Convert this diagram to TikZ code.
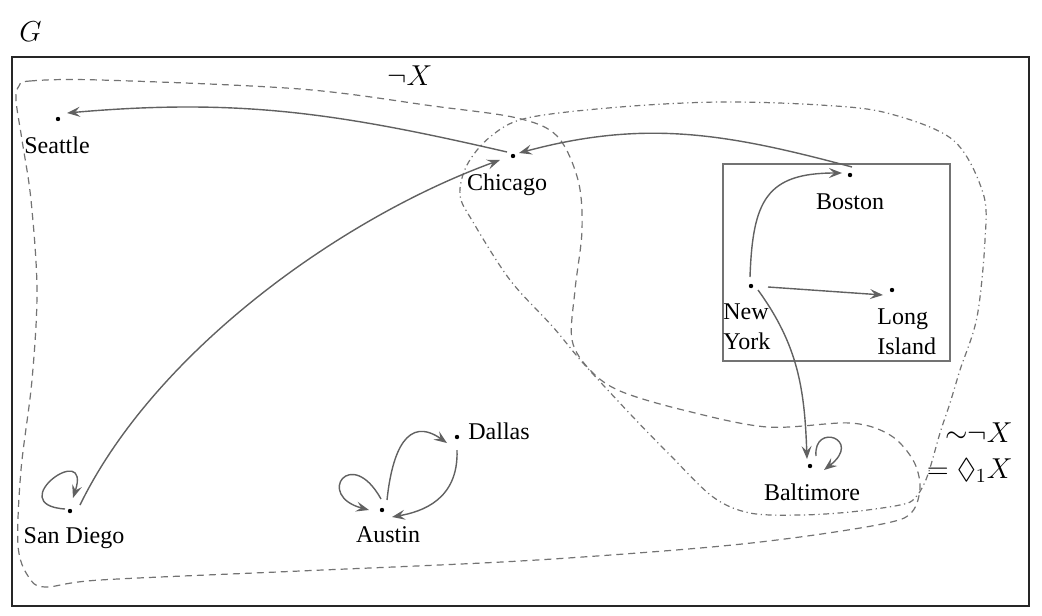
\documentclass[tikz,border=0pt]{standalone}
\usepackage{fontspec}
\setmainfont{Liberation Serif}
\usepackage{amssymb}
\usetikzlibrary{arrows.meta}

\begin{document}
\begin{tikzpicture}[x=0.5pt, y=-0.5pt]
	\tikzset{city/.style={circle, fill=black, inner sep=0pt, minimum size=2.2pt},
		lbl/.style={inner sep=0pt, font=\fontsize{12}{15}\selectfont},
		mlbl/.style={inner sep=0pt, font=\Large},
		rel/.style={draw=black!62, line width=0.7pt, -{Stealth[length=6.5pt, width=5pt, inset=2.5pt]}},
		region/.style={draw=black!55, line width=0.6pt}};

	\useasboundingbox (0,0) rectangle (1042,615);

	% frames
	\draw[black!85, line width=1pt] (11.5,57) rectangle (1028.5,606);
	\draw[black!55, line width=0.8pt] (723,164) rectangle (950,361);

	% regions
	\draw[region, dash pattern=on 3.5pt off 2.5pt] plot[smooth cycle, tension=0.55] coordinates {
		(19,86) (30,81) (100,80) (300,89) (433,106) (517,118) (557,136) (578,180) (582,230)
		(575,290) (572,340) (590,370) (620,391) (683,410) (767,427) (850,423) (890,435)
		(913,460) (920,487) (912,512) (887,523) (800,537) (700,548) (520,561) (300,571)
		(100,580) (45,587) (28,576) (18,545) (21,470) (32,380) (37,290) (31,200) (22,140) (16,100)};
	\draw[region, dash pattern=on 3pt off 1.8pt on 0.6pt off 1.8pt] plot[smooth cycle, tension=0.55] coordinates {
		(527,118) (620,107) (720,102) (820,105) (887,113) (953,140) (983,193) (985,240)
		(977,317) (960,370) (950,403) (940,433) (927,477) (915,498) (900,505) (850,512)
		(800,515) (750,513) (713,497) (670,455) (633,417) (583,363) (553,327) (510,280)
		(473,222) (460,195) (467,165) (490,137)};

	% cities
	\node[city] (sea) at (58,119) {};
	\node[city] (chi) at (513,156) {};
	\node[city] (bos) at (850,175) {};
	\node[city] (ny) at (751,286) {};
	\node[city] (li) at (892,290) {};
	\node[city] (bal) at (810,466) {};
	\node[city] (dal) at (457,437) {};
	\node[city] (au) at (382,510) {};
	\node[city] (sd) at (70,511) {};

	\node[lbl, anchor=base] (sea-l) at (57,153) {Seattle};
	\node[lbl, anchor=base] (chi-l) at (507,190) {Chicago};
	\node[lbl, anchor=base] (bos-l) at (850,209) {Boston};
	\node[lbl, anchor=north west, align=left] (ny-l) at (723,303) {New\\York};
	\node[lbl, anchor=north west, align=left] (li-l) at (877,308) {Long\\Island};
	\node[lbl, anchor=base] (bal-l) at (812,500) {Baltimore};
	\node[lbl, anchor=base west] (dal-l) at (468,439) {Dallas};
	\node[lbl, anchor=base] (au-l) at (388,542) {Austin};
	\node[lbl, anchor=base] (sd-l) at (74,543) {San Diego};

	% set labels
	\node[mlbl, anchor=base west] (g) at (19,42) {$G$};
	\node[mlbl, anchor=base west] (negx) at (387,85) {${\neg}X$};
	\node[mlbl, anchor=base east] (simx) at (1013,442) {${\sim}{\neg}X$};
	\node[mlbl, anchor=base east] (diax) at (1013,478) {$=\Diamond_{1}X$};

	% relation
	\draw[rel] ([shift={(-6,-4)}]chi.center) to[out=167, in=5] ([shift={(9,-6)}]sea.center);
	\draw[rel] ([shift={(2,-8)}]bos.center) to[out=165, in=15] ([shift={(6,-3)}]chi.center);
	\draw[rel] ([shift={(10,-6)}]sd.center) to[out=64, in=200, looseness=0.8] ([shift={(-13,4)}]chi.center);
	\draw[rel] ([shift={(-5,-2)}]sd.center) to[out=176, in=72, out distance=32pt, in distance=31pt] ([shift={(3,-13)}]sd.center);

	\draw[rel] ([shift={(-1,-9)}]ny.center) to[out=88, in=180, looseness=1.4] ([shift={(-8,-2)}]bos.center);
	\draw[rel] ([shift={(17,1)}]ny.center) -- ([shift={(-9,5)}]li.center);
	\draw[rel] ([shift={(7,4)}]ny.center) to[out=-54, in=92] ([shift={(-3,-7)}]bal.center);
	\draw[rel] ([shift={(6,-10)}]bal.center) to[out=95, in=38, out distance=17pt, in distance=25pt] ([shift={(14,4)}]bal.center);

	\draw[rel] ([shift={(-1,-11)}]au.center) to[out=119, in=165, out distance=31pt, in distance=28pt] ([shift={(-13,0)}]au.center);
	\draw[rel] ([shift={(5,-10)}]au.center) to[out=84, in=145, out distance=25pt, in distance=24pt] ([shift={(-10,6)}]dal.center);
	\draw[rel] ([shift={(0,13)}]dal.center) to[out=-88, in=10, out distance=25pt, in distance=15pt] ([shift={(10,7)}]au.center);
\end{tikzpicture}
\end{document}
